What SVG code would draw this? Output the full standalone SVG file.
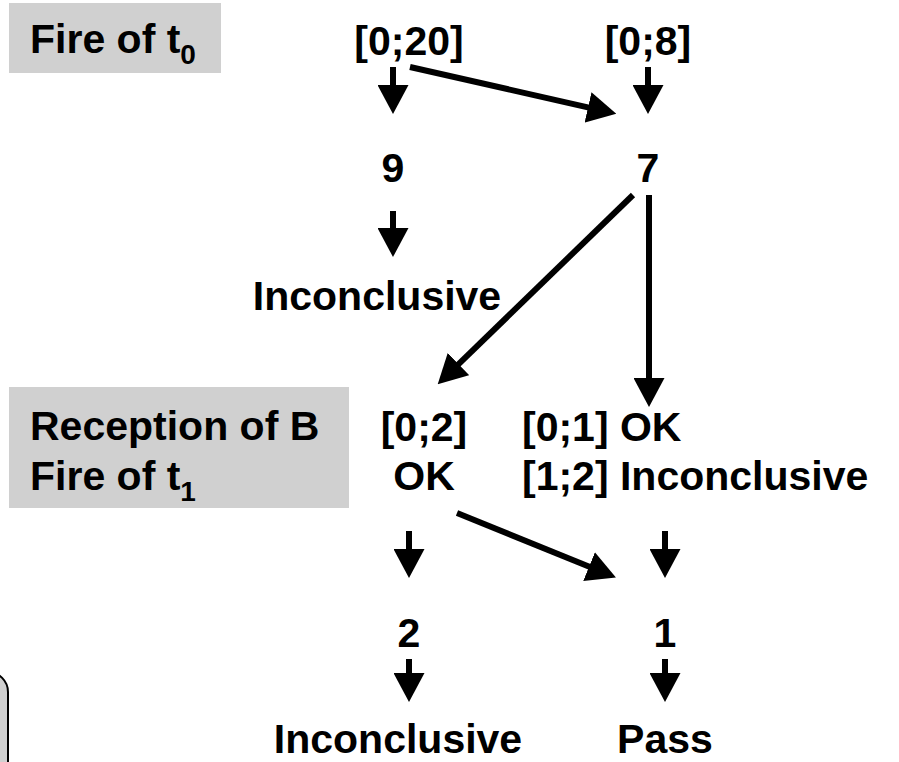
<svg xmlns="http://www.w3.org/2000/svg" width="899" height="762" viewBox="0 0 899 762">
  <defs>
    <marker id="ah" markerUnits="userSpaceOnUse" viewBox="0 0 29 31" markerWidth="29" markerHeight="31" refX="1" refY="15.5" orient="auto">
      <path d="M0,0 L29,15.5 L0,31 Z" fill="#000"/>
    </marker>
  </defs>
  <style>
    text { font-family: "Liberation Sans", Arial, sans-serif; font-weight: bold; font-size: 41px; fill: #000; }
    .sub { font-size: 28px; }
    .box { fill: #d0d0d0; }
    .c line { stroke: #000; stroke-width: 6; marker-end: url(#ah); }
    .mid { text-anchor: middle; }
  </style>
  <rect width="899" height="762" fill="#fff"/>

  <g id="label-fire-t0">
    <rect class="box" x="9" y="3" width="212" height="70"/>
    <text x="30" y="53">Fire of t<tspan class="sub" dy="11">0</tspan></text>
  </g>
  <g id="label-reception">
    <rect class="box" x="9" y="387" width="340" height="121"/>
    <text x="30" y="440">Reception of B</text>
    <text x="30" y="490">Fire of t<tspan class="sub" dy="11">1</tspan></text>
  </g>
  <g id="corner-shape">
    <rect x="-100" y="672" width="108" height="200" rx="20" fill="#d0d0d0" stroke="#000" stroke-width="2"/>
  </g>

  <g id="n-0-20"><text class="mid" x="409" y="55">[0;20]</text></g>
  <g id="n-0-8"><text class="mid" x="648" y="55">[0;8]</text></g>
  <g id="n-9"><text class="mid" x="393" y="182">9</text></g>
  <g id="n-7"><text class="mid" x="648" y="182">7</text></g>
  <g id="n-inc1"><text class="mid" x="377" y="310">Inconclusive</text></g>
  <g id="n-0-2"><text class="mid" x="424" y="441">[0;2]</text><text class="mid" x="424" y="490">OK</text></g>
  <g id="n-0-1"><text x="522" y="441">[0;1] OK</text><text x="522" y="490">[1;2] Inconclusive</text></g>
  <g id="n-2"><text class="mid" x="409" y="647">2</text></g>
  <g id="n-1"><text class="mid" x="665" y="647">1</text></g>
  <g id="n-inc2"><text class="mid" x="398" y="753">Inconclusive</text></g>
  <g id="n-pass"><text class="mid" x="665" y="753">Pass</text></g>

  <g id="connectors" class="c">
    <line x1="393" y1="67" x2="393" y2="86"/>
    <line x1="648" y1="67" x2="648" y2="86"/>
    <line x1="410" y1="67" x2="589" y2="107.6"/>
    <line x1="393" y1="211" x2="393" y2="229"/>
    <line x1="633" y1="195" x2="457.8" y2="364.8"/>
    <line x1="649" y1="195" x2="649" y2="379"/>
    <line x1="457" y1="513" x2="590" y2="567"/>
    <line x1="409" y1="531" x2="409" y2="550"/>
    <line x1="665" y1="531" x2="665" y2="550"/>
    <line x1="409" y1="659" x2="409" y2="674"/>
    <line x1="665" y1="659" x2="665" y2="674"/>
  </g>
</svg>
